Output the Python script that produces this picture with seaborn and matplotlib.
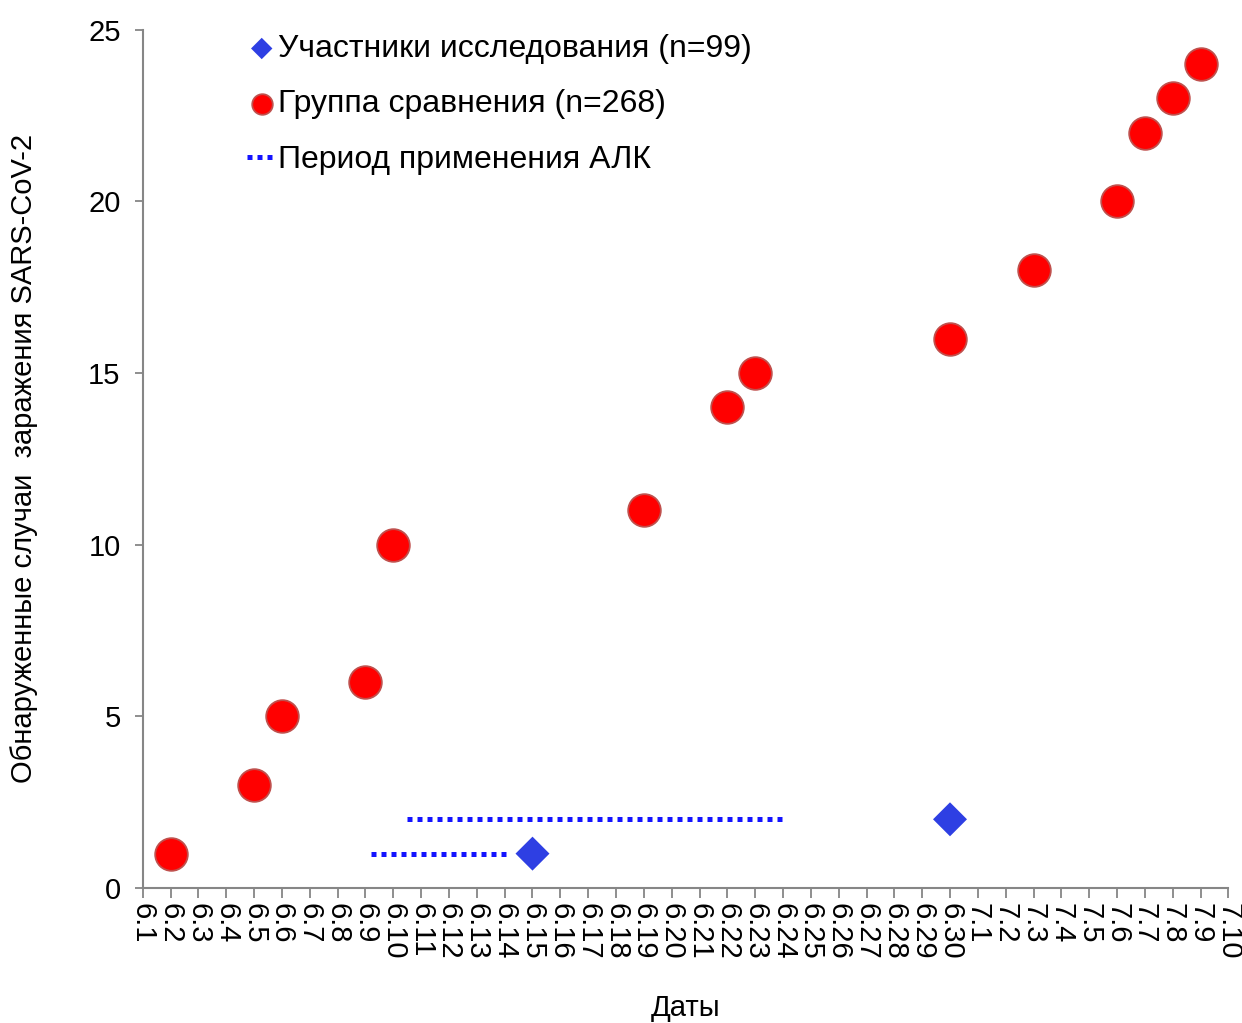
import numpy as np
import pandas as pd
import matplotlib
matplotlib.use("Agg")
import matplotlib.pyplot as plt
import seaborn as sns

# category labels on the x axis (dates)
dates = ["6.%d" % d for d in range(1, 31)] + ["7.%d" % d for d in range(1, 11)]

# comparison group (red circles)
group_dates = ["6.2", "6.5", "6.6", "6.9", "6.10", "6.19", "6.22", "6.23",
               "6.30", "7.3", "7.6", "7.7", "7.8", "7.9"]
group_cases = [1, 3, 5, 6, 10, 11, 14, 15, 16, 18, 20, 22, 23, 24]

# study participants (blue diamonds)
study_dates = ["6.15", "6.30"]
study_cases = [1, 2]

# ALK application periods (dotted lines), in category positions
period_y = [1, 2]
period_start = [8.2, 9.5]
period_end = [13.2, 23.0]

sns.set_style("white")
plt.rcParams["font.family"] = ["Liberation Sans", "DejaVu Sans"]
plt.rcParams["text.color"] = "black"
plt.rcParams["xtick.color"] = "black"
plt.rcParams["ytick.color"] = "black"
plt.rcParams["axes.labelcolor"] = "black"

df_group = pd.DataFrame({"x": [dates.index(d) for d in group_dates], "y": group_cases})
df_study = pd.DataFrame({"x": [dates.index(d) for d in study_dates], "y": study_cases})

fig = plt.figure(figsize=(12.42, 10.23), dpi=100)
ax = fig.add_axes([0.115, 0.132, 0.874, 0.839])

ax.hlines(period_y, period_start, period_end, colors="#1414ff", linestyles=(0, (1, 1)),
          linewidth=3.6, label="Период применения АЛК", zorder=2)
sns.scatterplot(data=df_study, x="x", y="y", ax=ax, marker="D", s=17.3**2, color="#2e3fe3",
                edgecolor="none", label="Участники исследования (n=99)", zorder=3)
sns.scatterplot(data=df_group, x="x", y="y", ax=ax, marker="o", s=23.5**2, color="#ff0000",
                edgecolor="#c0504d", linewidth=1.3, label="Группа сравнения (n=268)", zorder=3)

ax.set_xlim(0, len(dates) - 1)
ax.set_ylim(0, 25)
ax.set_xticks(range(len(dates)))
ax.set_xticklabels(dates, rotation=270, fontsize=21)
ax.set_yticks(range(0, 26, 5))
ax.tick_params(axis="y", labelsize=21, direction="out", length=6, width=1.3, color="#868686", pad=10, left=True)
ax.tick_params(axis="x", direction="out", length=7, width=1.3, color="#868686", pad=4, bottom=True)

for s in ["top", "right"]:
    ax.spines[s].set_visible(False)
for s in ["left", "bottom"]:
    ax.spines[s].set_color("#868686")
    ax.spines[s].set_linewidth(1.5)

ax.set_xlabel("Даты", fontsize=21, va="center")
ax.xaxis.set_label_coords(0.5, -0.14)
ax.set_ylabel("Обнаруженные случаи  заражения SARS-CoV-2", fontsize=21)
ax.yaxis.set_label_coords(-0.097, 0.5)

h, l = ax.get_legend_handles_labels()
order = [l.index("Участники исследования (n=99)"), l.index("Группа сравнения (n=268)"),
         l.index("Период применения АЛК")]
ax.legend([h[i] for i in order], [l[i] for i in order], loc="upper left",
          bbox_to_anchor=(0.176, 0.995), bbox_transform=fig.transFigure, frameon=False,
          fontsize=23, markerscale=0.63, handlelength=0.9, handletextpad=0.05, labelspacing=0.8)

fig.savefig("out.png", dpi=100)
